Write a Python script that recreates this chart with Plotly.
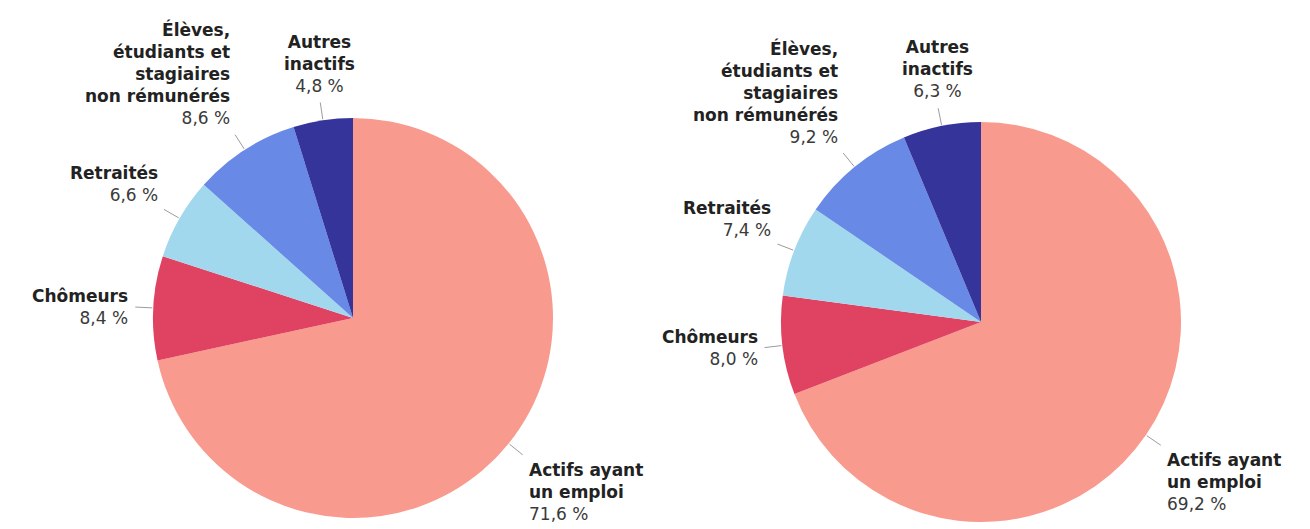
import math
import plotly.graph_objects as go

W, H = 1310, 529

categories = [
    "Actifs ayant<br>un emploi",
    "Chômeurs",
    "Retraités",
    "Élèves,<br>étudiants et<br>stagiaires<br>non rémunérés",
    "Autres<br>inactifs",
]
values_left = [71.6, 8.4, 6.6, 8.6, 4.8]
values_right = [69.2, 8.0, 7.4, 9.2, 6.3]
colors = ["#F99A8E", "#E04262", "#A2D8EE", "#6889E5", "#34349A"]

# pie geometry (pixels)
pies = [
    dict(values=values_left, cx=353, cy=318, r=200),
    dict(values=values_right, cx=981, cy=322, r=200),
]

fig = go.Figure()
annotations = []
shapes = []


def px(x):
    return x / W


def py(y):
    return 1 - y / H


for p in pies:
    cx, cy, r = p["cx"], p["cy"], p["r"]
    fig.add_trace(go.Pie(
        values=p["values"], labels=[c.replace("<br>", " ") for c in categories],
        marker=dict(colors=colors, line=dict(width=0)),
        sort=False, direction="clockwise", rotation=0,
        textinfo="none", showlegend=False, hole=0,
        domain=dict(x=[px(cx - r), px(cx + r)], y=[py(cy + r), py(cy - r)]),
    ))
    total = sum(p["values"])
    cum = 0.0
    for cat, v in zip(categories, p["values"]):
        mid = (cum + v / 2) / total * 2 * math.pi
        cum += v
        s, c = math.sin(mid), math.cos(mid)
        x0, y0 = cx + (r + 1) * s, cy - (r + 1) * c
        x1, y1 = cx + (r + 18) * s, cy - (r + 18) * c
        shapes.append(dict(type="line", xref="paper", yref="paper",
                           x0=px(x0), y0=py(y0), x1=px(x1), y1=py(y1),
                           line=dict(color="#9c9c9c", width=1)))
        tx, ty = cx + (r + 23) * s, cy - (r + 23) * c
        if abs(s) < 0.3:
            xa, al = "center", "center"
        elif s < 0:
            xa, al = "right", "right"
        else:
            xa, al = "left", "left"
        if abs(c) < 0.3:
            ya = "middle"
        elif c > 0:
            ya = "bottom"
        else:
            ya = "top"
        pct = f"{v:.1f}".replace(".", ",")
        annotations.append(dict(
            xref="paper", yref="paper", x=px(tx), y=py(ty),
            xanchor=xa, yanchor=ya, align=al, showarrow=False,
            text=f"<b>{cat}</b><br><span style='color:#3a3a3a'>{pct} %</span>",
            font=dict(family="DejaVu Sans", size=17, color="#222222"),
        ))

fig.update_layout(
    width=W, height=H,
    margin=dict(l=0, r=0, t=0, b=0),
    paper_bgcolor="white", plot_bgcolor="white",
    annotations=annotations, shapes=shapes,
    font=dict(family="DejaVu Sans"),
)

fig.write_html(
    "out.html",
    config={"displayModeBar": False},
    post_script="document.body.style.margin='0';document.body.style.overflow='hidden';",
)
